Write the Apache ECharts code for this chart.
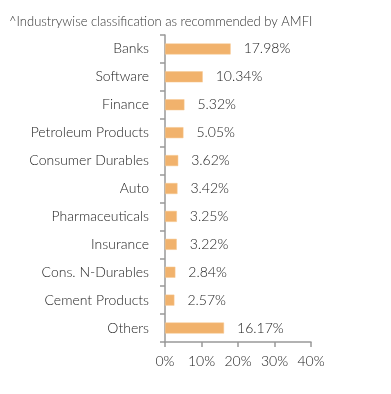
<!DOCTYPE html>
<html><head><meta charset="utf-8">
<script src="https://cdn.jsdelivr.net/npm/echarts@6/dist/echarts.min.js"></script>
<style>html,body{margin:0;padding:0;background:#fff}#c{width:391px;height:394px}</style>
</head><body><div id="c"></div>
<script>
var categories = ["Banks","Software","Finance","Petroleum Products","Consumer Durables","Auto","Pharmaceuticals","Insurance","Cons. N-Durables","Cement Products","Others"];
var values = [17.98,10.34,5.32,5.05,3.62,3.42,3.25,3.22,2.84,2.57,16.17];
var xTicks = [0,10,20,30,40];
var titleText = "^Industrywise classification as recommended by AMFI";

var chart = echarts.init(document.getElementById('c'));
chart.setOption({
  animation:false,
  title:{text:titleText,left:4,top:10,textStyle:{fontFamily:'Lato',fontSize:13,fontWeight:300,color:'#333'}},
  grid:{left:165,right:80,top:35,bottom:52},
  xAxis:{type:'value',min:xTicks[0],max:xTicks[xTicks.length-1],interval:10,
    axisLine:{show:true,lineStyle:{color:'#999',width:1.5}},
    axisTick:{show:true,length:5,lineStyle:{color:'#999',width:1.5}},
    splitLine:{show:false},
    axisLabel:{formatter:'{value}%',margin:12,fontFamily:'Lato',fontSize:14,fontWeight:300,color:'#222'}},
  yAxis:{type:'category',data:categories,inverse:true,
    axisLine:{show:true,lineStyle:{color:'#999',width:1.5}},
    axisTick:{show:true,length:5,lineStyle:{color:'#999',width:1.5}},
    axisLabel:{margin:16,fontFamily:'Lato',fontSize:14,fontWeight:300,color:'#222'}},
  series:[{type:'bar',data:values,barWidth:11,
    itemStyle:{color:'#F1B26C',borderColor:'#F6C890',borderWidth:0.5},
    label:{show:true,position:'right',distance:13,formatter:function(p){return p.value.toFixed(2)+'%';},
      fontFamily:'Lato',fontSize:14,fontWeight:300,color:'#222'}}]
});
</script></body></html>
